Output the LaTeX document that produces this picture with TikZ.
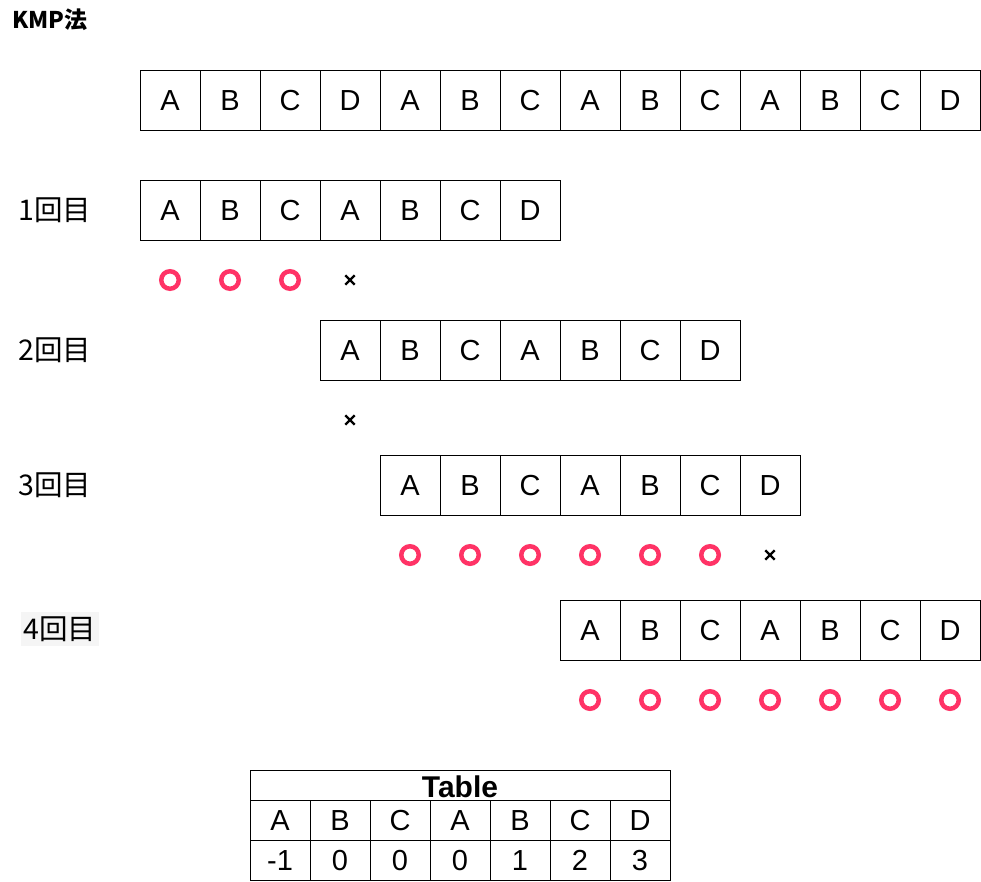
\documentclass[tikz,border=0pt]{standalone}
\usepackage{fontspec}
\setmainfont{Liberation Sans}
\newfontfamily\jp{Noto Sans CJK JP}
\usetikzlibrary{shapes.misc}
\definecolor{rosa}{HTML}{FF3366}

\begin{document}
\begin{tikzpicture}[x=1pt,y=-1pt,
    celda/.style={draw, line width=1pt, minimum width=60pt, minimum height=60pt, inner sep=0pt, text height=21pt, text depth=0pt, font=\fontsize{29}{29}\selectfont},
    tabla/.style={draw, line width=1pt, minimum width=60pt, minimum height=40pt, inner sep=0pt, text height=21pt, text depth=0pt, font=\fontsize{29}{29}\selectfont},
    bien/.style={circle, draw=rosa, line width=4.5pt, minimum size=17.5pt, inner sep=0pt},
    mal/.style={cross out, draw=black, line width=2.4pt, minimum size=7pt, inner sep=0pt},
    vuelta/.style={font=\jp\fontsize{28.5}{28.5}\selectfont, inner sep=1pt}]
        \useasboundingbox (0,0) rectangle (981,881);

        % Titulo
        \node[font=\jp\bfseries\fontsize{23}{23}\selectfont, anchor=west, inner sep=0pt] (titulo) at (12,20) {KMP法};

        % Texto
        \foreach \l [count=\i from 0] in {A,B,C,D,A,B,C,A,B,C,A,B,C,D}
            \node[celda] (t\i) at ({170+60*\i},100) {\l};

        % 1回目
        \node[vuelta] (r1) at (55,210) {1回目};
        \foreach \l [count=\i from 0] in {A,B,C,A,B,C,D}
            \node[celda] (a\i) at ({170+60*\i},210) {\l};
        \foreach \i in {0,1,2}
            \node[bien] (ok1\i) at ({170+60*\i},280) {};
        \node[mal] (no1) at (350,280) {};

        % 2回目
        \node[vuelta] (r2) at (55,350) {2回目};
        \foreach \l [count=\i from 0] in {A,B,C,A,B,C,D}
            \node[celda] (b\i) at ({350+60*\i},350) {\l};
        \node[mal] (no2) at (350,420) {};

        % 3回目
        \node[vuelta] (r3) at (55,485) {3回目};
        \foreach \l [count=\i from 0] in {A,B,C,A,B,C,D}
            \node[celda] (c\i) at ({410+60*\i},485) {\l};
        \foreach \i in {0,...,5}
            \node[bien] (ok3\i) at ({410+60*\i},555) {};
        \node[mal] (no3) at (770,555) {};

        % 4回目
        \node[vuelta, fill=black!4, minimum width=78pt, minimum height=34pt] (r4) at (60,629) {4回目};
        \foreach \l [count=\i from 0] in {A,B,C,A,B,C,D}
            \node[celda] (d\i) at ({590+60*\i},630) {\l};
        \foreach \i in {0,...,6}
            \node[bien] (ok4\i) at ({590+60*\i},700) {};

        % Tabla
        \node[draw, line width=1pt, minimum width=420pt, minimum height=30pt, inner sep=0pt, text height=24pt, text depth=0pt, font=\bfseries\fontsize{30}{30}\selectfont] (cab) at (460,785) {Table};
        \foreach \l [count=\i from 0] in {A,B,C,A,B,C,D}
            \node[tabla] (f\i) at ({280+60*\i},820) {\l};
        \foreach \v [count=\i from 0] in {-1,0,0,0,1,2,3}
            \node[tabla] (v\i) at ({280+60*\i},860) {\v};
\end{tikzpicture}
\end{document}
